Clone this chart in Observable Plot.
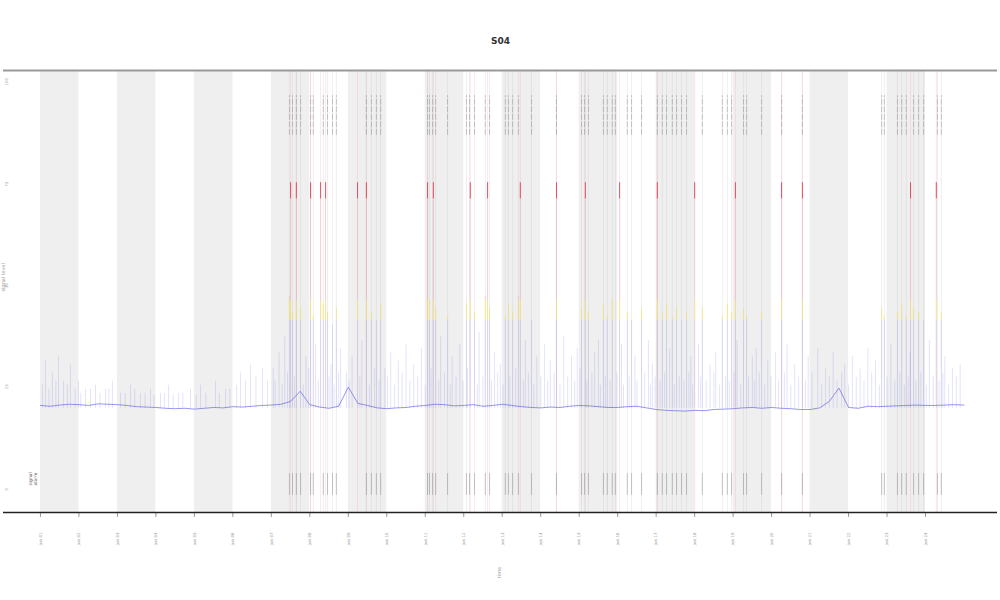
<!DOCTYPE html>
<html><head><meta charset="utf-8">
<script src="https://cdn.jsdelivr.net/npm/d3@7"></script>
<script src="https://cdn.jsdelivr.net/npm/@observablehq/plot@0.6"></script>
<style>body{margin:0;background:#fff;font-family:"DejaVu Sans",sans-serif}</style>
</head><body><div id="chart"></div>
<script>
// ---- data ----
const titleText = "S04";
const xTitle = "time";
const yTitle = "signal level";
const legendLabels = ["signal", "alarm"];

// baseline level, one value every quarter day (day 0 .. day 24)
const baseStep = 0.25;
const baseline = [
  21.0,20.8,21.1,21.3, 21.2,21.0,21.4,21.3, 21.2,21.0,20.7,20.6,
  20.5,20.3,20.2,20.3, 20.1,20.3,20.5,20.4, 20.7,20.6,20.8,21.0,
  21.1,21.3,22.0,24.5, 21.2,20.6,20.3,20.8, 25.5,21.5,21.0,20.4,
  20.2,20.4,20.5,20.8, 21.0,21.3,21.2,20.9, 21.0,21.2,20.8,21.0,
  21.3,21.0,20.7,20.5, 20.4,20.6,20.5,20.8, 21.0,20.9,20.7,20.5,
  20.5,20.7,20.8,20.4, 20.0,19.8,19.7,19.6, 19.8,19.7,20.0,20.1,
  20.2,20.4,20.5,20.3, 20.5,20.3,20.2,20.0, 20.0,20.4,22.0,25.3,
  20.5,20.3,20.8,20.7, 20.8,20.9,21.0,21.1, 21.0,21.0,21.1,21.2, 21.1
];

// small spikes in the quiet first days [day, peak]
const quietSpikes = [
  [0.13,32],[0.31,29],[0.47,33],[0.60,27],[0.78,31],[0.99,27],[1.17,25],[1.43,26],
  [1.69,25],[1.87,27],[2.08,24],[2.34,26],[2.60,24],[2.86,25],[3.12,24],[3.33,26],
  [3.59,24],[3.90,25],[4.16,26],[4.55,27],[4.81,25],[5.20,29],[5.46,31],[5.77,30],
  [0.05,26],[0.22,25],[0.4,27],[0.7,26],[0.9,25],[1.05,24],[1.3,25],[1.55,24],[1.78,25],
  [2.2,24],[2.45,25],[2.72,24],[2.95,23.5],[3.22,24],[3.45,23.5],[3.7,24],[4.05,23.5],
  [4.3,24],[4.65,24],[4.92,25],[5.1,26],[5.33,27],[5.6,28],[5.9,27]
];
// ordinary spikes later on [day, peak]
const backgroundSpikes = [
  [6.05,30],[6.2,34],[6.35,38],[6.9,33],[7.15,36],[7.55,31],[7.8,35],[7.95,29],[8.1,33],[8.35,37],
  [8.95,30],[9.1,34],[9.3,32],[9.5,36],[9.7,31],[9.9,35],[10.4,38],[10.7,33],[10.9,36],[11.4,39],
  [11.8,34],[11.95,31],[12.6,37],[12.9,33],[13.1,36],[13.25,32],[13.6,38],[13.8,33],[13.95,35],
  [14.4,34],[14.5,37],[15.1,36],[15.45,33],[15.8,37],[15.9,31],[16.35,35],[16.9,33],[17.1,36],
  [17.4,31],[17.55,34],[18.1,37],[18.5,33],[18.6,35],[18.9,32],[19.1,34],[19.4,36],[19.6,31],
  [19.95,33],[20.2,35],[20.4,30],[20.6,34],[20.9,31],[21.1,33],[21.3,30],[21.5,35],[21.7,32],
  [22.1,36],[22.6,34],[23.1,37],[23.5,33],[23.7,30],[23.9,31]
];
// many low spikes forming the light haze above the baseline [day, peak]
const minorSpikes = [
  [6.1,27],[6.28,26],[6.42,29],[6.6,28],[6.83,26],[6.97,30],[7.22,27],[7.5,28],[7.63,26],[7.75,29],
  [8.02,27],[8.3,28],[8.55,26],[8.68,30],[8.8,27],[9.02,28],[9.2,26],[9.4,29],[9.6,27],[9.8,28],
  [10.0,26],[10.15,30],[10.35,27],[10.5,29],[10.65,26],[10.8,28],[10.98,27],[11.1,30],[11.35,26],
  [11.5,28],[11.72,27],[11.88,29],[12.02,26],[12.2,28],[12.35,30],[12.55,27],[12.68,29],[12.82,26],
  [13.0,28],[13.18,27],[13.35,29],[13.5,26],[13.7,28],[13.88,27],[14.02,30],[14.2,27],[14.33,29],
  [14.55,26],[14.68,28],[14.8,27],[14.98,29],[15.15,26],[15.3,28],[15.5,27],[15.7,29],[15.85,26],
  [15.97,28],[16.1,27],[16.22,29],[16.47,26],[16.6,28],[16.72,27],[16.85,29],[16.95,26],[17.15,28],
  [17.3,27],[17.5,29],[17.65,26],[17.8,28],[17.9,27],[18.02,29],[18.2,26],[18.4,28],[18.55,27],
  [18.68,29],[18.82,26],[18.98,28],[19.18,27],[19.33,29],[19.5,26],[19.7,28],[19.88,27],[20.05,29],
  [20.3,26],[20.5,28],[20.7,27],[20.82,29],[21.0,26],[21.2,28],[21.4,27],[21.6,29],[21.8,26],
  [22.0,28],[22.2,27],[22.33,29],[22.45,26],[22.55,28],[22.75,27],[22.88,29],[23.02,26],[23.2,28],
  [23.35,27],[23.45,29],[23.6,26],[23.8,28]
];
// spikes at event times [day, peak]
const eventSpikes = [
  [6.47,48],[6.50,76],[6.55,44],[6.65,76],[6.76,45],[7.02,76],[7.09,43],[7.28,76],[7.35,46],
  [7.41,76],[7.46,44],[7.59,41],[7.69,45],[8.24,76],[8.47,76],[8.60,44],[8.73,42],[8.84,46],
  [10.06,76],[10.11,47],[10.21,76],[10.27,45],[10.58,43],[11.07,46],[11.17,76],[11.28,44],
  [11.56,48],[11.62,76],[11.67,45],[12.08,43],[12.16,46],[12.27,44],[12.42,48],[12.47,76],
  [12.76,42],[13.41,76],[14.06,45],[14.16,76],[14.24,44],[14.63,46],[14.73,43],[14.86,47],
  [15.05,76],[15.25,44],[15.36,42],[15.62,45],[16.03,76],[16.16,44],[16.27,46],[16.42,43],
  [16.53,45],[16.66,42],[16.79,44],[17.00,76],[17.20,45],[17.72,43],[17.85,46],[17.96,44],
  [18.06,76],[18.27,45],[18.35,43],[18.74,44],[19.26,76],[19.80,76],[21.86,45],[21.93,43],
  [22.27,44],[22.38,46],[22.50,43],[22.61,76],[22.69,45],[22.82,44],[22.95,42],[23.28,76],[23.41,44]
];
const eventDays = [
  6.47,6.55,6.65,6.76,7.02,7.09,7.35,7.46,7.59,7.69,8.47,8.60,8.73,8.84,10.06,10.11,10.19,10.27,
  10.58,11.07,11.15,11.28,11.56,11.67,12.08,12.16,12.27,12.42,12.76,13.41,14.06,14.14,14.24,14.63,
  14.73,14.86,14.94,15.25,15.36,15.62,16.03,16.16,16.27,16.42,16.53,16.66,16.79,17.20,17.72,17.85,
  17.96,18.27,18.35,18.74,19.26,19.80,21.86,21.93,22.27,22.38,22.50,22.69,22.82,22.95,23.31,23.41
];
const alarmDays = [
  6.50,6.65,7.02,7.28,7.41,8.24,8.47,10.06,10.21,11.17,11.62,12.47,13.41,14.16,15.05,16.03,
  17.00,18.06,19.26,19.80,22.61,23.28
];
const bandStarts = [0,2,4,6,8,10,12,14,16,18,20,22];
const xTickDays = [0,1,2,3,4,5,6,7,8,9,10,11,12,13,14,15,16,17,18,19,20,21,22,23];
const xTickLabels = ["Jun 01","Jun 02","Jun 03","Jun 04","Jun 05","Jun 06","Jun 07","Jun 08",
  "Jun 09","Jun 10","Jun 11","Jun 12","Jun 13","Jun 14","Jun 15","Jun 16","Jun 17","Jun 18",
  "Jun 19","Jun 20","Jun 21","Jun 22","Jun 23","Jun 24"];
const yTicks = [0,25,50,75,100];
const yTickLabels = ["0","25","50","75","100"];
const lowLimit = 42, highLimit = 47;

// ---- chart ----
const yMin = -5.43, yMax = 103.7;
const baseData = baseline.map((v, i) => ({day: i * baseStep, value: v}));
const spikes = quietSpikes.concat(backgroundSpikes, minorSpikes, eventSpikes);

const chart = Plot.plot({
  width: 1000, height: 600,
  marginTop: 70, marginBottom: 88, marginLeft: 3, marginRight: 3,
  style: {fontSize: "4px", fontFamily: "DejaVu Sans", color: "#999", background: "#fff"},
  x: {domain: [-0.96, 24.87], ticks: xTickDays,
      tickFormat: d => xTickLabels[xTickDays.indexOf(d)],
      tickRotate: -90, tickSize: 5, tickPadding: 15, label: null},
  y: {domain: [yMin, yMax], axis: null},
  marks: [
    Plot.rect(bandStarts, {x1: d => d, x2: d => d + 1, y1: yMin, y2: yMax, fill: "#efefef"}),
    Plot.ruleX(eventDays, {x: d => d, y1: yMin, y2: yMax, stroke: "#c4c4c4", strokeOpacity: 0.45, strokeWidth: 0.6}),
    Plot.ruleX(alarmDays, {x: d => d, y1: yMin, y2: yMax, stroke: "#f2a7b5", strokeOpacity: 0.35, strokeWidth: 0.8}),
    Plot.ruleX(eventDays, {x: d => d, y1: 87.7, y2: 97.5, stroke: "#333", strokeOpacity: 0.5, strokeWidth: 0.5, strokeDasharray: "6,1.5"}),
    Plot.ruleX(eventDays, {x: d => d, y1: -1.2, y2: 4.2, stroke: "#333", strokeOpacity: 0.5, strokeWidth: 0.5}),
    Plot.ruleX(spikes, {x: d => d[0], y1: 20.3, y2: d => Math.min(d[1], lowLimit), stroke: "#6c6cee", strokeOpacity: 0.32, strokeWidth: 0.6}),
    Plot.ruleX(spikes.filter(d => d[1] > lowLimit), {x: d => d[0], y1: lowLimit, y2: d => Math.min(d[1], highLimit), stroke: "#f0df4a", strokeOpacity: 0.7, strokeWidth: 0.8}),
    Plot.ruleX(spikes.filter(d => d[1] > highLimit), {x: d => d[0], y1: highLimit, y2: d => d[1], stroke: "#e8485a", strokeOpacity: 0.25, strokeWidth: 0.7}),
    Plot.ruleX(spikes.filter(d => d[1] > 60), {x: d => d[0], y1: d => d[1] - 4, y2: d => d[1], stroke: "#e02a3c", strokeOpacity: 0.75, strokeWidth: 1}),
    Plot.line(baseData, {x: "day", y: "value", stroke: "#5c5ce6", strokeWidth: 0.8, strokeOpacity: 0.8}),
    Plot.ruleY([yMax], {stroke: "#999", strokeWidth: 2}),
    Plot.ruleY([yMin], {stroke: "#222", strokeWidth: 1.5}),
    Plot.text(yTicks, {y: d => d, frameAnchor: "left", dx: 3, rotate: -90, fontSize: 4, fill: "#aaa",
      text: d => yTickLabels[yTicks.indexOf(d)]}),
    Plot.text([yTitle], {frameAnchor: "left", dx: 0, rotate: -90, fontSize: 5, fill: "#999", text: d => d}),
    Plot.text([xTitle], {frameAnchor: "bottom", dy: 60, rotate: -90, fontSize: 5, fill: "#999", text: d => d}),
    Plot.text([titleText], {frameAnchor: "top", dy: -33, fontSize: 9, fontWeight: "bold", fill: "#333", text: d => d}),
    Plot.text([legendLabels[0]], {frameAnchor: "bottom-left", dx: 28, dy: -27, rotate: -90, fontSize: 4.5, fill: "#555", text: d => d}),
    Plot.text([legendLabels[1]], {frameAnchor: "bottom-left", dx: 33, dy: -27, rotate: -90, fontSize: 4.5, fill: "#555", text: d => d})
  ]
});
document.getElementById("chart").appendChild(chart);
</script>
</body></html>
